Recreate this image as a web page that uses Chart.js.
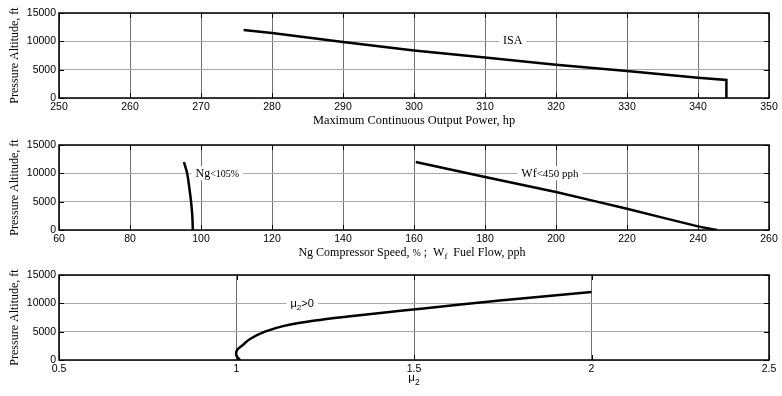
<!DOCTYPE html>
<html>
<head>
<meta charset="utf-8">
<title>Engine limits vs pressure altitude</title>
<script src="https://cdn.jsdelivr.net/npm/chart.js@4.4.0/dist/chart.umd.min.js"></script>
<style>
  body { margin: 0; background: #fff; }
  canvas { position: absolute; left: 0; }
</style>
</head>
<body>
<canvas id="powerChart" width="782" height="132" style="top:0"></canvas>
<canvas id="speedChart" width="782" height="132" style="top:132px"></canvas>
<canvas id="muChart" width="782" height="132" style="top:264px"></canvas>
<script>
// altitude axis, shared by all panels
const altTicks = [0, 5000, 10000, 15000];

// panel 1: maximum continuous output power (ISA)
const powerTicks = [250, 260, 270, 280, 290, 300, 310, 320, 330, 340, 350];
const powerHp = [276, 280, 290, 300, 310, 320, 330, 340, 344, 344];
const powerAlt = [12000, 11470, 9880, 8400, 7165, 5876, 4765, 3582, 3176, 0];

// panel 2: Ng compressor speed and fuel flow limits
const speedTicks = [60, 80, 100, 120, 140, 160, 180, 200, 220, 240, 260];
const ngSpeed = [95.2, 96.1, 96.7, 97.2, 97.55, 97.7];
const ngAlt = [12000, 10000, 7500, 5000, 2500, 0];
const fuelFlow = [160.5, 180, 200, 220, 240, 245.4];
const fuelAlt = [12000, 9360, 6690, 3737, 640, 0];

// panel 3: mu2 margin
const muTicks = [0.5, 1, 1.5, 2, 2.5];
const mu2 = [1.010, 1.001, 0.999, 1.003, 1.015, 1.038, 1.080, 1.137, 1.221, 1.314, 1.418, 1.520, 1.742, 2.0];
const muAlt = [0, 600, 1200, 1900, 2500, 3700, 5000, 6070, 6960, 7680, 8400, 9050, 10500, 12000];

const SERIF = "'Liberation Serif', 'Times New Roman', serif";
const SANS = "'Liberation Sans', Arial, sans-serif";

function toPoints(xs, ys) {
  return xs.map((v, i) => ({ x: v, y: ys[i] }));
}

function curve(xs, ys, tension) {
  return {
    data: toPoints(xs, ys),
    showLine: true,
    borderColor: '#000',
    borderWidth: 2.5,
    pointRadius: 0,
    tension: tension || 0,
    fill: false
  };
}

// draws a list of text runs (different sizes / subscripts) centred on cx
function drawRuns(ctx, runs, cx, baseY) {
  let total = 0;
  runs.forEach(r => {
    ctx.font = `${r.size}px ${r.family || SERIF}`;
    r.w = ctx.measureText(r.t).width;
    total += r.w;
  });
  let px = cx - total / 2;
  ctx.textAlign = 'left';
  ctx.textBaseline = 'alphabetic';
  runs.forEach(r => {
    ctx.font = `${r.size}px ${r.family || SERIF}`;
    ctx.fillText(r.t, px, baseY + (r.dy || 0));
    px += r.w;
  });
  return total;
}

// box frame plus inward tick marks on all four sides
const framePlugin = {
  id: 'frame',
  afterDraw(chart) {
    const { ctx, chartArea: a, scales: { x, y } } = chart;
    ctx.save();
    ctx.strokeStyle = '#000';
    ctx.lineWidth = 1;
    ctx.beginPath();
    x.ticks.forEach(t => {
      const px = Math.round(x.getPixelForValue(t.value)) + 0.5;
      ctx.moveTo(px, a.top); ctx.lineTo(px, a.top + 5);
      ctx.moveTo(px, a.bottom); ctx.lineTo(px, a.bottom - 5);
    });
    y.ticks.forEach(t => {
      const py = Math.round(y.getPixelForValue(t.value)) + 0.5;
      ctx.moveTo(a.left, py); ctx.lineTo(a.left + 5, py);
      ctx.moveTo(a.right, py); ctx.lineTo(a.right - 5, py);
    });
    ctx.stroke();
    ctx.lineWidth = 1.5;
    ctx.strokeRect(a.left, a.top, a.right - a.left, a.bottom - a.top);
    ctx.restore();
  }
};

// text tags on white boxes, anchored at data coordinates
const tagPlugin = {
  id: 'tags',
  beforeDatasetsDraw(chart, args, opts) {
    const { ctx, scales: { x, y } } = chart;
    (opts.items || []).forEach(item => {
      const cx = x.getPixelForValue(item.x);
      const cy = y.getPixelForValue(item.y);
      ctx.save();
      let w = 0;
      item.runs.forEach(r => {
        ctx.font = `${r.size}px ${r.family || SERIF}`;
        w += ctx.measureText(r.t).width;
      });
      ctx.fillStyle = '#fff';
      ctx.fillRect(cx - w / 2 - 4, cy - 7, w + 8, 14);
      ctx.fillStyle = '#000';
      drawRuns(ctx, item.runs, cx, cy + 4);
      ctx.restore();
    });
  }
};

// x-axis caption under the tick labels
const captionPlugin = {
  id: 'caption',
  afterDraw(chart, args, opts) {
    if (!opts.runs) return;
    const { ctx, chartArea: a } = chart;
    ctx.save();
    ctx.fillStyle = '#000';
    drawRuns(ctx, opts.runs, (a.left + a.right) / 2 + (opts.dx || 0), a.bottom + opts.dy);
    ctx.restore();
  }
};

function panel(id, datasets, xMin, xMax, xTicks, tags, caption, topPad) {
  return new Chart(document.getElementById(id), {
    type: 'scatter',
    data: { datasets },
    plugins: [tagPlugin, framePlugin, captionPlugin],
    options: {
      responsive: false,
      animation: false,
      devicePixelRatio: 1,
      layout: { padding: { top: topPad, right: 13, left: 0, bottom: 0 } },
      plugins: {
        legend: { display: false },
        tooltip: { enabled: false },
        tags: { items: tags },
        caption: caption
      },
      scales: {
        x: {
          type: 'linear',
          min: xMin,
          max: xMax,
          afterBuildTicks: s => { s.ticks = xTicks.map(v => ({ value: v })); },
          afterFit: s => { s.height = 47 - topPad; },
          border: { display: false },
          grid: { color: '#707070', lineWidth: 1, drawTicks: false },
          ticks: {
            color: '#000',
            padding: 3,
            maxRotation: 0,
            autoSkip: false,
            callback: v => String(v),
            font: { family: SANS, size: 10.5 }
          }
        },
        y: {
          min: 0,
          max: 15000,
          afterBuildTicks: s => { s.ticks = altTicks.map(v => ({ value: v })); },
          afterFit: s => { s.width = 59; },
          border: { display: false },
          grid: { color: '#a8a8a8', lineWidth: 1, drawTicks: false },
          ticks: {
            color: '#000',
            padding: 3,
            callback: v => String(v),
            font: { family: SANS, size: 10.5 }
          },
          title: {
            display: true,
            text: 'Pressure Altitude, ft',
            color: '#000',
            padding: { top: 8, bottom: 0 },
            font: { family: SERIF, size: 12 }
          }
        }
      }
    }
  });
}

panel('powerChart', [curve(powerHp, powerAlt)], 250, 350, powerTicks,
  [{ x: 313.9, y: 10300, runs: [{ t: 'ISA', size: 12 }] }],
  { dy: 26, runs: [{ t: 'Maximum Continuous Output Power, hp', size: 12.4 }] }, 13);

panel('speedChart', [curve(ngSpeed, ngAlt, 0.3), curve(fuelFlow, fuelAlt, 0.2)], 60, 260, speedTicks,
  [
    { x: 104.6, y: 10000, runs: [{ t: 'Ng', size: 12 }, { t: '<105%', size: 10 }] },
    { x: 198.3, y: 10000, runs: [{ t: 'Wf', size: 12 }, { t: '<450 pph', size: 11 }] }
  ],
  { dy: 26, dx: -2, runs: [
    { t: 'Ng Compressor Speed, ', size: 12 }, { t: '%', size: 10 }, { t: ' ;  W', size: 12 },
    { t: 'f', size: 9, dy: 3 }, { t: '  Fuel Flow, pph', size: 12 }
  ] }, 13);

panel('muChart', [curve(mu2, muAlt, 0.3)], 0.5, 2.5, muTicks,
  [{ x: 1.185, y: 10000, runs: [{ t: 'μ', size: 11, family: SANS }, { t: '2', size: 8, dy: 3, family: SANS }, { t: '>0', size: 11, family: SANS }] }],
  { dy: 21, runs: [{ t: 'μ', size: 11.5, family: SANS }, { t: '2', size: 8.5, dy: 4, family: SANS }] }, 11);
</script>
</body>
</html>
